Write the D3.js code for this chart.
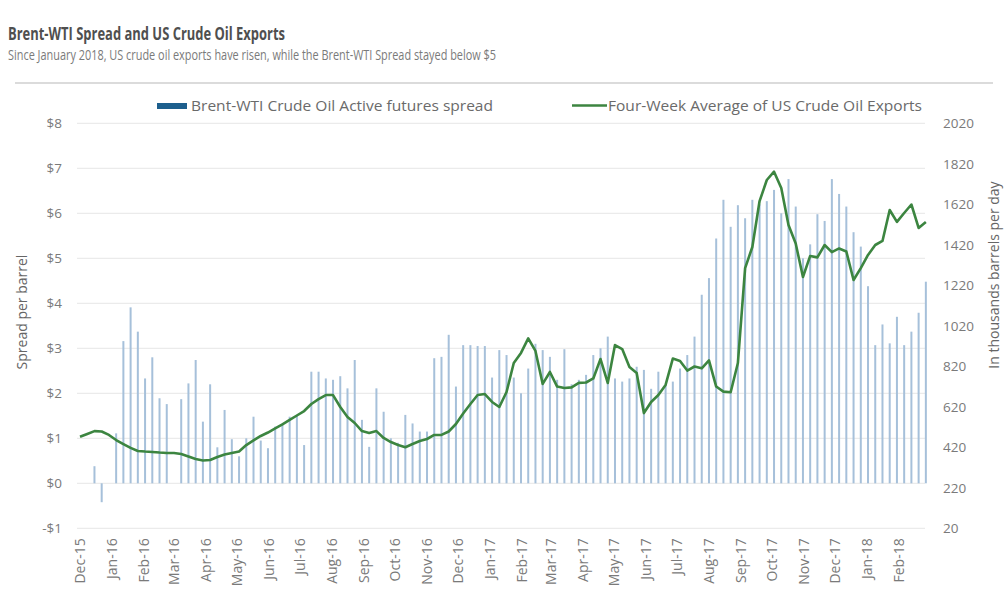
<!DOCTYPE html>
<html>
<head>
<meta charset="utf-8">
<script src="https://cdn.jsdelivr.net/npm/d3@7"></script>
<style>
  html, body { margin: 0; padding: 0; background: #fff; }
  svg { display: block; font-family: "Open Sans", sans-serif; }
</style>
</head>
<body>
<svg id="chart" width="1005" height="603"></svg>
<script>
// ---- Data ----
const weekStart = new Date(2015, 11, 1);   // first weekly observation
const weekEnd = new Date(2018, 2, 1);      // exclusive end
const monthTicksStart = new Date(2015, 11, 1);
const monthTicksEnd = new Date(2018, 2, 1);

// Brent-WTI Crude Oil Active futures spread ($/barrel), weekly
const spread = [
  null, null, 0.38, -0.42, null, 1.11, 3.16, 3.91, 3.37, 2.33,
  2.80, 1.89, 1.76, null, 1.87, 2.22, 2.74, 1.37, 2.20, 0.80,
  1.63, 0.98, 0.60, 1.00, 1.48, 0.95, 0.78, 1.26, 1.33, 1.48,
  1.52, 0.85, 2.48, 2.48, 2.33, 2.30, 2.38, 2.11, 2.74, 1.41,
  0.81, 2.11, 1.59, 1.00, 0.90, 1.52, 1.33, 1.15, 1.15, 2.78,
  2.81, 3.30, 2.15, 3.07, 3.07, 3.05, 3.05, 2.35, 2.96, 2.85,
  2.35, 2.00, 2.55, 3.10, 2.96, 2.81, 2.30, 2.98, 2.20, 2.30,
  2.41, 2.85, 3.00, 3.26, 2.33, 2.26, 2.33, 2.59, 2.52, 2.10,
  2.48, 2.20, 2.26, 2.55, 2.85, 3.26, 4.19, 4.56, 5.44, 6.30,
  5.70, 6.18, 5.89, 6.30, 6.20, 6.27, 6.52, 6.00, 6.76, 6.15,
  5.00, 5.31, 5.98, 5.83, 6.76, 6.43, 6.15, 5.58, 5.26, 4.38,
  3.07, 3.53, 3.11, 3.70, 3.07, 3.37, 3.79, 4.48
];

// Four-week average of US crude oil exports (thousand barrels per day), weekly
const exportsAvg = [
  472, 486, 500, 498, 481, 456, 436, 417, 402, 399,
  397, 394, 392, 392, 387, 375, 362, 355, 357, 372,
  384, 392, 399, 431, 454, 476, 493, 513, 533, 555,
  577, 599, 634, 658, 678, 678, 619, 570, 540, 500,
  491, 500, 466, 446, 431, 420, 436, 451, 461, 481,
  481, 498, 535, 587, 634, 678, 683, 644, 619, 693,
  836, 886, 958, 896, 733, 792, 720, 713, 716, 738,
  740, 760, 856, 738, 925, 905, 817, 787, 589, 644,
  678, 728, 858, 846, 799, 819, 810, 849, 720, 695,
  692, 836, 1305, 1409, 1636, 1740, 1781, 1700, 1518, 1426,
  1261, 1365, 1358, 1419, 1384, 1402, 1387, 1246, 1305, 1370,
  1419, 1439, 1592, 1533, 1577, 1619, 1503, 1533
];

const leftTicks = [-1, 0, 1, 2, 3, 4, 5, 6, 7, 8];
const rightTicks = [20, 220, 420, 620, 820, 1020, 1220, 1420, 1620, 1820, 2020];

const titleText = "Brent-WTI Spread and US Crude Oil Exports";
const subtitleText = "Since January 2018, US crude oil exports have risen, while the Brent-WTI Spread  stayed below $5";
const seriesNames = ["Brent-WTI Crude Oil Active futures spread", "Four-Week Average of US Crude Oil Exports"];
const leftTitle = "Spread per barrel";
const rightTitle = "In thousands barrels per day";

// ---- Layout ----
const svg = d3.select("#chart");
const plotLeft = 77, plotRight = 925;
const dates = d3.timeTuesday.range(weekStart, weekEnd);
const rows = dates.map((d, i) => ({ date: d, spread: spread[i], exp: exportsAvg[i] }));

const x = d3.scaleTime()
  .domain([new Date(2015, 11, 1), new Date(2018, 1, 1)])
  .range([80, 899]);
const yL = d3.scaleLinear().domain([-1, 8]).range([528.3, 123.3]);
const yR = d3.scaleLinear().domain([20, 2020]).range([528.3, 123.3]);

// Title & subtitle
svg.append("text").attr("x", 8).attr("y", 39.5)
  .attr("font-size", 17).attr("font-weight", 700).attr("fill", "#4f4f4f")
  .attr("textLength", 277).attr("lengthAdjust", "spacingAndGlyphs")
  .text(titleText);
svg.append("text").attr("x", 8).attr("y", 60)
  .attr("font-size", 14).attr("fill", "#7a7a7a")
  .attr("textLength", 488).attr("lengthAdjust", "spacingAndGlyphs")
  .text(subtitleText);
svg.append("line").attr("x1", 15).attr("x2", 993).attr("y1", 83).attr("y2", 83)
  .attr("stroke", "#cfcfcf").attr("stroke-width", 1.5);

// Gridlines
svg.append("g").selectAll("line").data(leftTicks).join("line")
  .attr("x1", plotLeft).attr("x2", plotRight)
  .attr("y1", d => yL(d)).attr("y2", d => yL(d))
  .attr("stroke", "#ebebeb").attr("stroke-width", 1.2);

// Left axis
const axL = svg.append("g").attr("transform", `translate(${plotLeft},0)`)
  .call(d3.axisLeft(yL).tickValues(leftTicks).tickSize(0).tickPadding(15)
    .tickFormat(d => (d < 0 ? "-$" : "$") + Math.abs(d)));
axL.select(".domain").remove();
axL.selectAll("text").attr("font-size", 13.5).attr("fill", "#7a7a7a").attr("font-family", "Open Sans");

// Right axis
const axR = svg.append("g").attr("transform", `translate(${plotRight},0)`)
  .call(d3.axisRight(yR).tickValues(rightTicks).tickSize(0).tickPadding(18).tickFormat(d3.format("d")));
axR.select(".domain").remove();
axR.selectAll("text").attr("font-size", 13.5).attr("fill", "#7a7a7a").attr("font-family", "Open Sans");

// X axis
const axX = svg.append("g").attr("transform", "translate(0,528.3)")
  .call(d3.axisBottom(x).tickValues(d3.timeMonth.range(monthTicksStart, monthTicksEnd))
    .tickSize(0).tickFormat(d3.timeFormat("%b-%y")));
axX.select(".domain").remove();
axX.selectAll("text")
  .attr("font-size", 14).attr("fill", "#7a7a7a").attr("font-family", "Open Sans")
  .attr("text-anchor", "end").attr("transform", "rotate(-90)")
  .attr("x", -10).attr("y", 0).attr("dy", "0.35em");

// Axis titles
svg.append("text").attr("transform", "translate(27,312) rotate(-90)")
  .attr("text-anchor", "middle").attr("font-size", 14).attr("fill", "#666")
  .text(leftTitle);
svg.append("text").attr("transform", "translate(999,275) rotate(-90)")
  .attr("text-anchor", "middle").attr("font-size", 14).attr("fill", "#666")
  .text(rightTitle);

// Bars
svg.append("g").selectAll("rect").data(rows.filter(d => d.spread != null)).join("rect")
  .attr("x", d => x(d.date) - 1)
  .attr("width", 2)
  .attr("y", d => yL(Math.max(0, d.spread)))
  .attr("height", d => Math.abs(yL(d.spread) - yL(0)))
  .attr("fill", "#a6c0da");

// Line
const line = d3.line().x(d => x(d.date)).y(d => yR(d.exp));
svg.append("path").datum(rows).attr("d", line)
  .attr("fill", "none").attr("stroke", "#3c8540").attr("stroke-width", 2.6)
  .attr("stroke-linejoin", "round");

// Legend
svg.append("rect").attr("x", 157).attr("y", 103).attr("width", 30).attr("height", 6)
  .attr("fill", "#1d5f8d");
svg.append("text").attr("x", 191).attr("y", 111).attr("font-size", 14).attr("fill", "#6a6a6a")
  .attr("textLength", 302).attr("lengthAdjust", "spacingAndGlyphs").text(seriesNames[0]);
svg.append("line").attr("x1", 572).attr("x2", 607).attr("y1", 105.5).attr("y2", 105.5)
  .attr("stroke", "#3c8540").attr("stroke-width", 2.6);
svg.append("text").attr("x", 608).attr("y", 111).attr("font-size", 14).attr("fill", "#6a6a6a")
  .attr("textLength", 314).attr("lengthAdjust", "spacingAndGlyphs").text(seriesNames[1]);
</script>
</body>
</html>
